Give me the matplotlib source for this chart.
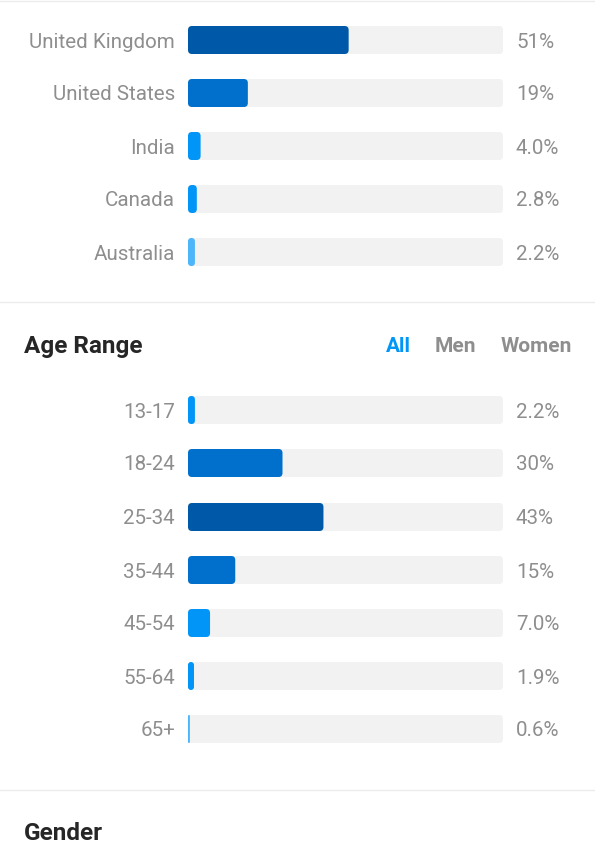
import matplotlib.pyplot as plt
from matplotlib.patches import FancyBboxPatch

countries = ["United Kingdom", "United States", "India", "Canada", "Australia"]
country_vals = [51, 19, 4.0, 2.8, 2.2]
country_labels = ["51%", "19%", "4.0%", "2.8%", "2.2%"]

ages = ["13-17", "18-24", "25-34", "35-44", "45-54", "55-64", "65+"]
age_vals = [2.2, 30, 43, 15, 7.0, 1.9, 0.6]
age_labels = ["2.2%", "30%", "43%", "15%", "7.0%", "1.9%", "0.6%"]

country_colors = ["#0059a8", "#0070cc", "#0095f6", "#0095f6", "#4db5f9"]
age_colors = ["#0095f6", "#0070cc", "#0059a8", "#0070cc", "#0095f6", "#0095f6", "#4db5f9"]

plt.rcParams['font.family'] = ['Roboto', 'DejaVu Sans']
fig = plt.figure(figsize=(5.95, 8.42), dpi=100)
ax = fig.add_axes([0, 0, 1, 1])
ax.set_xlim(0, 595)
ax.set_ylim(842, 0)
ax.axis('off')

x0, width, h = 188, 315, 28
grey = '#8e8e8e'


def round_bars(container, r=4):
    # swap the plain rectangles for rounded ones of the same geometry
    for p in container.patches:
        w = p.get_width()
        rr = min(r, w / 2)
        fb = FancyBboxPatch((p.get_x() + rr, p.get_y() + rr), max(w - 2 * rr, 0),
                            p.get_height() - 2 * rr,
                            boxstyle=f"round,pad={rr}", color=p.get_facecolor(),
                            linewidth=0, mutation_aspect=1)
        ax.add_patch(fb)
        p.remove()


def draw_rows(names, vals, labels, colors, ys):
    round_bars(ax.barh(ys, [width] * len(ys), left=x0, height=h, color='#f2f2f2'))
    round_bars(ax.barh(ys, [v / 100 * width for v in vals], left=x0, height=h, color=colors))
    for y, n, lab in zip(ys, names, labels):
        ax.text(175, y + 2, n, ha='right', va='center', fontsize=14.8, color=grey)
        ax.text(516, y + 2, lab, ha='left', va='center', fontsize=14.8, color=grey)


draw_rows(countries, country_vals, country_labels, country_colors,
          [40, 93, 146, 199, 252])
draw_rows(ages, age_vals, age_labels, age_colors,
          [410, 463, 517, 570, 623, 676, 729])

for y in [0.5, 302, 790]:
    ax.axhline(y, color='#ececec', linewidth=1)

ax.text(24, 346, "Age Range", fontsize=17.5, fontweight='bold', color='#262626', va='center')
ax.text(398, 346, "All", fontsize=15, fontweight='bold', color='#0095f6', va='center', ha='center')
ax.text(455, 346, "Men", fontsize=15, fontweight='bold', color=grey, va='center', ha='center')
ax.text(536, 346, "Women", fontsize=15, fontweight='bold', color=grey, va='center', ha='center')
ax.text(24, 834, "Gender", fontsize=17.5, fontweight='bold', color='#262626', va='center')

fig.savefig('out.png', dpi=100)
